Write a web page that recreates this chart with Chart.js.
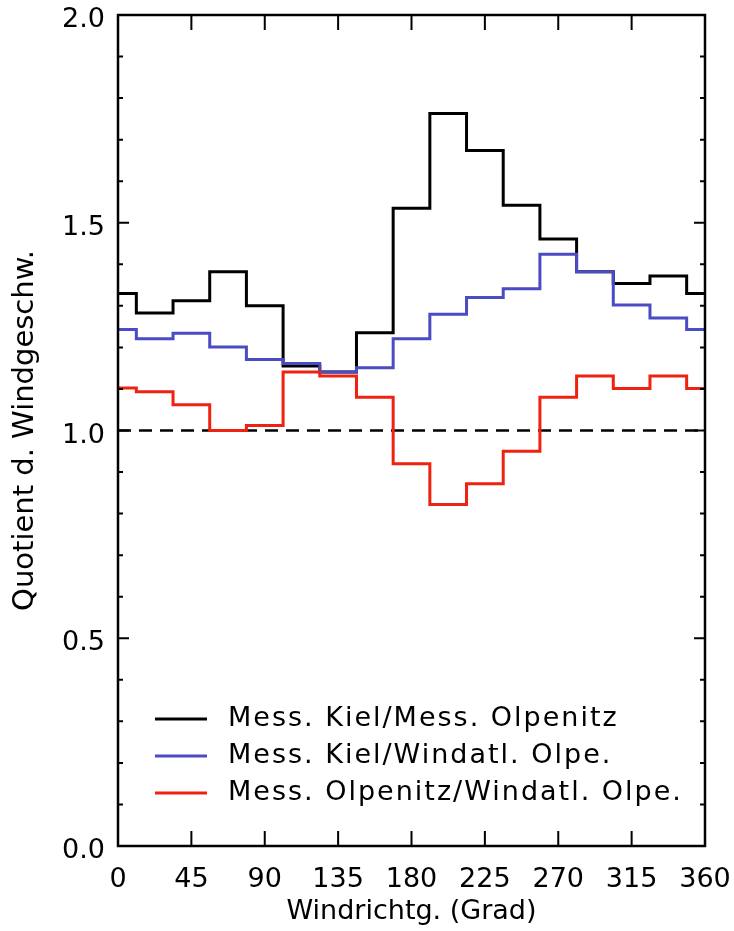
<!DOCTYPE html>
<html>
<head>
<meta charset="utf-8">
<script src="https://cdn.jsdelivr.net/npm/chart.js@4.4.1/dist/chart.umd.min.js"></script>
<style>
  html, body { margin: 0; padding: 0; background: #fff; }
  canvas { display: block; }
</style>
</head>
<body>
<canvas id="graphCanvas" width="734" height="931"></canvas>
<script>
// bin centres (Grad), last bin = first bin again
let richtung = [0, 22.5, 45, 67.5, 90, 112.5, 135, 157.5, 180, 202.5, 225, 247.5, 270, 292.5, 315, 337.5, 360];
let kielOlpenitz = [1.33, 1.283, 1.312, 1.382, 1.300, 1.155, 1.141, 1.235, 1.535, 1.763, 1.674, 1.542, 1.461, 1.382, 1.354, 1.372, 1.33];
let kielWindatlas = [1.243, 1.221, 1.234, 1.201, 1.171, 1.161, 1.141, 1.151, 1.221, 1.280, 1.320, 1.341, 1.424, 1.382, 1.302, 1.271, 1.243];
let olpenitzWindatlas = [1.102, 1.093, 1.062, 1.000, 1.012, 1.141, 1.131, 1.080, 0.920, 0.822, 0.872, 0.950, 1.080, 1.131, 1.101, 1.131, 1.101];
let referenz = [1.0, 1.0];
let xTicks = [0, 45, 90, 135, 180, 225, 270, 315, 360];
let yTicks = [0.0, 0.5, 1.0, 1.5, 2.0];

let labels = ['Mess. Kiel/Mess. Olpenitz', 'Mess. Kiel/Windatl. Olpe.', 'Mess. Olpenitz/Windatl. Olpe.'];
let farben = ['#000000', '#4b4bc3', '#ee2211'];

function toPoints(values) {
  return values.map(function(v, i) { return { x: richtung[i], y: v }; });
}

// frame, inward ticks and legend in the plot, like the IDL original
const rahmenPlugin = {
  id: 'rahmen',
  afterDraw(chart) {
    let ctx = chart.ctx;
    let a = chart.chartArea;
    let xs = chart.scales.x;
    let ys = chart.scales.y;
    ctx.save();
    ctx.strokeStyle = '#000';
    ctx.lineWidth = 2.5;
    ctx.strokeRect(a.left, a.top, a.right - a.left, a.bottom - a.top);

    ctx.lineWidth = 2;
    ctx.beginPath();
    xTicks.forEach(function(t) {
      let px = xs.getPixelForValue(t);
      ctx.moveTo(px, a.bottom); ctx.lineTo(px, a.bottom - 15);
      ctx.moveTo(px, a.top); ctx.lineTo(px, a.top + 15);
    });
    for (let i = 0; i <= 20; i++) {
      let v = i / 10;
      let py = ys.getPixelForValue(v);
      let len = (i % 5 === 0) ? 11 : 5;
      ctx.moveTo(a.left, py); ctx.lineTo(a.left + len, py);
      ctx.moveTo(a.right, py); ctx.lineTo(a.right - len, py);
    }
    ctx.stroke();

    // legend
    ctx.font = '27px "DejaVu Sans"';
    ctx.letterSpacing = '2px';
    ctx.textBaseline = 'middle';
    ctx.fillStyle = '#000';
    labels.forEach(function(l, i) {
      let y = 719 + i * 37;
      ctx.strokeStyle = farben[i];
      ctx.lineWidth = 2.8;
      ctx.beginPath();
      ctx.moveTo(155, y); ctx.lineTo(207, y);
      ctx.stroke();
      ctx.fillText(l, 228, y);
    });
    ctx.restore();
  }
};

let chartdata = {
  datasets: [{
    label: labels[0],
    borderColor: farben[0],
    backgroundColor: farben[0],
    borderWidth: 3,
    stepped: 'middle',
    pointRadius: 0,
    fill: false,
    order: 3,
    data: toPoints(kielOlpenitz)
  }, {
    label: labels[1],
    borderColor: farben[1],
    backgroundColor: farben[1],
    borderWidth: 3,
    stepped: 'middle',
    pointRadius: 0,
    fill: false,
    order: 2,
    data: toPoints(kielWindatlas)
  }, {
    label: labels[2],
    borderColor: farben[2],
    backgroundColor: farben[2],
    borderWidth: 3,
    stepped: 'middle',
    pointRadius: 0,
    fill: false,
    order: 1,
    data: toPoints(olpenitzWindatlas)
  }, {
    label: 'eins',
    borderColor: '#000',
    borderWidth: 2.5,
    borderDash: [13, 8],
    pointRadius: 0,
    fill: false,
    order: 4,
    data: [{ x: 0, y: referenz[0] }, { x: 360, y: referenz[1] }]
  }]
};

let graphTarget = document.getElementById('graphCanvas');
let lineGraph = new Chart(graphTarget, {
  type: 'line',
  data: chartdata,
  plugins: [rahmenPlugin],
  options: {
    responsive: false,
    animation: false,
    layout: { padding: { top: 15, right: 29, left: 0, bottom: 0 } },
    plugins: {
      legend: { display: false },
      tooltip: { enabled: false }
    },
    scales: {
      x: {
        type: 'linear',
        min: 0,
        max: 360,
        afterBuildTicks: function(scale) {
          scale.ticks = xTicks.map(function(v) { return { value: v }; });
        },
        afterFit: function(scale) {
          scale.height = 85;
          scale.paddingLeft = 0;
          scale.paddingRight = 0;
        },
        grid: { drawOnChartArea: false, drawTicks: false },
        border: { display: false },
        ticks: {
          color: '#000',
          padding: 18,
          maxRotation: 0,
          font: { family: 'DejaVu Sans', size: 27 }
        },
        title: {
          display: true,
          text: 'Windrichtg. (Grad)',
          color: '#000',
          font: { family: 'DejaVu Sans', size: 27 },
          padding: { top: 0, bottom: 3 }
        }
      },
      y: {
        min: 0,
        max: 2,
        afterBuildTicks: function(scale) {
          scale.ticks = yTicks.map(function(v) { return { value: v }; });
        },
        afterFit: function(scale) {
          scale.width = 118;
          scale.paddingTop = 0;
          scale.paddingBottom = 0;
        },
        grid: { drawOnChartArea: false, drawTicks: false },
        border: { display: false },
        ticks: {
          color: '#000',
          padding: 13,
          labelOffset: 5,
          font: { family: 'DejaVu Sans', size: 27 },
          callback: function(v) { return Number(v).toFixed(1); }
        },
        title: {
          display: true,
          text: 'Quotient d. Windgeschw.',
          color: '#000',
          font: { family: 'DejaVu Sans', size: 29 },
          padding: { top: 8, bottom: 0 }
        }
      }
    }
  }
});
</script>
</body>
</html>
